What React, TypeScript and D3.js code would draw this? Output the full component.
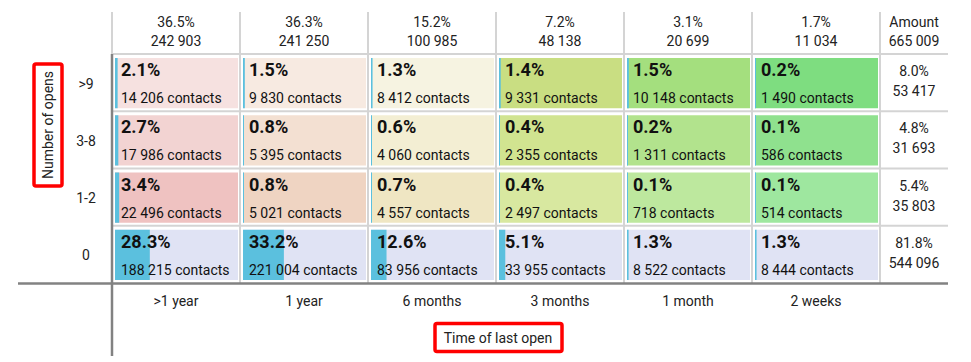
import React from 'react'
import * as d3 from 'd3'

// time of last open (x) and number of opens (y)
const periods = ['>1 year', '1 year', '6 months', '3 months', '1 month', '2 weeks']
const openGroups = ['>9', '3-8', '1-2', '0']

// contacts per cell, one array per open group
const opens9plus = [14206, 9830, 8412, 9331, 10148, 1490]
const opens3to8 = [17986, 5395, 4060, 2355, 1311, 586]
const opens1to2 = [22496, 5021, 4557, 2497, 718, 514]
const opens0 = [188215, 221004, 83956, 33955, 8522, 8444]
const contacts = [opens9plus, opens3to8, opens1to2, opens0]

// heat colours (style only)
const palette = [
  ['#f6e1e0', '#f7eae1', '#f6f3e1', '#c9de82', '#a4df7e', '#7edd80'],
  ['#f2d3d2', '#f3e0d2', '#f3eed3', '#d1e490', '#b2e38d', '#8fe18e'],
  ['#efc2c1', '#efd4c2', '#efe6c3', '#d8e8a0', '#bde89e', '#9ee79f'],
  ['#e0e3f4', '#e0e3f4', '#e0e3f4', '#e0e3f4', '#e0e3f4', '#e0e3f4'],
]

const W = 971
const H = 362
const font = 'Roboto, sans-serif'
const grid = '#d4d4d4'
const dark = '#828282'

const loc = d3.formatLocale({ decimal: '.', thousands: ' ', grouping: [3], currency: ['', ''] })
const fmtN = loc.format(',d')
const fmtP = (v: number) => d3.format('.1f')(v) + '%'

export default function App() {
  const total = d3.sum(contacts.flat())
  const colTotals = periods.map((_, i) => d3.sum(contacts, r => r[i]))
  const rowTotals = contacts.map(r => d3.sum(r))

  const x = d3.scaleBand().domain(periods).range([112, 880])
  const y = d3.scaleBand().domain(openGroups).range([54, 283])
  const cw = x.bandwidth() - 5
  const ch = y.bandwidth() - 7
  const amountX = 914
  const gridRight = 948

  return (
    <svg width={W} height={H} style={{ position: 'absolute', left: 0, top: 0, background: '#fff' }} fontFamily={font}>
      {/* header */}
      {[...periods, 'amount'].map((p, i) => (
        <line key={'hv' + i} x1={112 + i * x.step()} x2={112 + i * x.step()} y1={12} y2={54} stroke={grid} strokeWidth={2} />
      ))}
      {periods.map((p, i) => (
        <g key={'h' + p} textAnchor="middle" fontSize={14} fill="#222">
          <text x={x(p)! + x.bandwidth() / 2} y={27}>{fmtP(colTotals[i] / total * 100)}</text>
          <text x={x(p)! + x.bandwidth() / 2} y={46}>{fmtN(colTotals[i])}</text>
        </g>
      ))}
      <g textAnchor="middle" fontSize={14} fill="#222">
        <text x={amountX} y={27}>Amount</text>
        <text x={amountX} y={46}>{fmtN(total)}</text>
      </g>

      {/* grid lines */}
      {openGroups.map(g => (
        <line key={'rl' + g} x1={112} x2={gridRight} y1={y(g)!} y2={y(g)!} stroke={grid} strokeWidth={2} />
      ))}
      {periods.slice(1).concat(['end']).map((p, i) => (
        <line key={'cl' + i} x1={112 + (i + 1) * x.step()} x2={112 + (i + 1) * x.step()} y1={54} y2={283} stroke={grid} strokeWidth={2} />
      ))}

      {/* cells */}
      {openGroups.map((g, r) => (
        <g key={'row' + g}>
          <text x={86} y={y(g)! + y.bandwidth() / 2 + 1} textAnchor="middle" dominantBaseline="central" fontSize={14} fill="#222">{g}</text>
          {periods.map((p, c) => {
            const v = contacts[r][c]
            const pct = v / total * 100
            const cx = x(p)! + 3
            const cy = y(g)! + 4
            return (
              <g key={p}>
                <rect x={cx} y={cy} width={cw} height={ch} fill={palette[r][c]} />
                <rect x={cx} y={cy} width={Math.max(1, pct / 100 * cw)} height={ch} fill="#5bc0de" />
                <text x={cx + 6} y={cy + 18} fontSize={18} fontWeight="bold" fill="#111">{fmtP(pct)}</text>
                <text x={cx + 6} y={cy + 45} fontSize={14} fill="#111">{fmtN(v)} contacts</text>
              </g>
            )
          })}
          <g textAnchor="middle" fontSize={14} fill="#222">
            <text x={amountX} y={y(g)! + 22}>{fmtP(rowTotals[r] / total * 100)}</text>
            <text x={amountX} y={y(g)! + 42}>{fmtN(rowTotals[r])}</text>
          </g>
        </g>
      ))}

      {/* axes frame */}
      <line x1={18} x2={gridRight} y1={283.5} y2={283.5} stroke={dark} strokeWidth={2.5} />
      <line x1={112} x2={112} y1={54} y2={356} stroke={dark} strokeWidth={2.5} />

      {periods.map(p => (
        <text key={'xl' + p} x={x(p)! + x.bandwidth() / 2} y={306} textAnchor="middle" fontSize={14} fill="#222">{p}</text>
      ))}

      {/* axis titles */}
      <rect x={435} y={323.5} width={127} height={28} rx={2} fill="none" stroke="#f00" strokeWidth={3.5} />
      <text x={498} y={338} textAnchor="middle" dominantBaseline="central" fontSize={14} fill="#222">Time of last open</text>
      <rect x={34} y={64} width={28} height={122} rx={2} fill="none" stroke="#f00" strokeWidth={3.5} />
      <text transform="translate(48,125) rotate(-90)" textAnchor="middle" dominantBaseline="central" fontSize={14} fill="#222">Number of opens</text>
    </svg>
  )
}
